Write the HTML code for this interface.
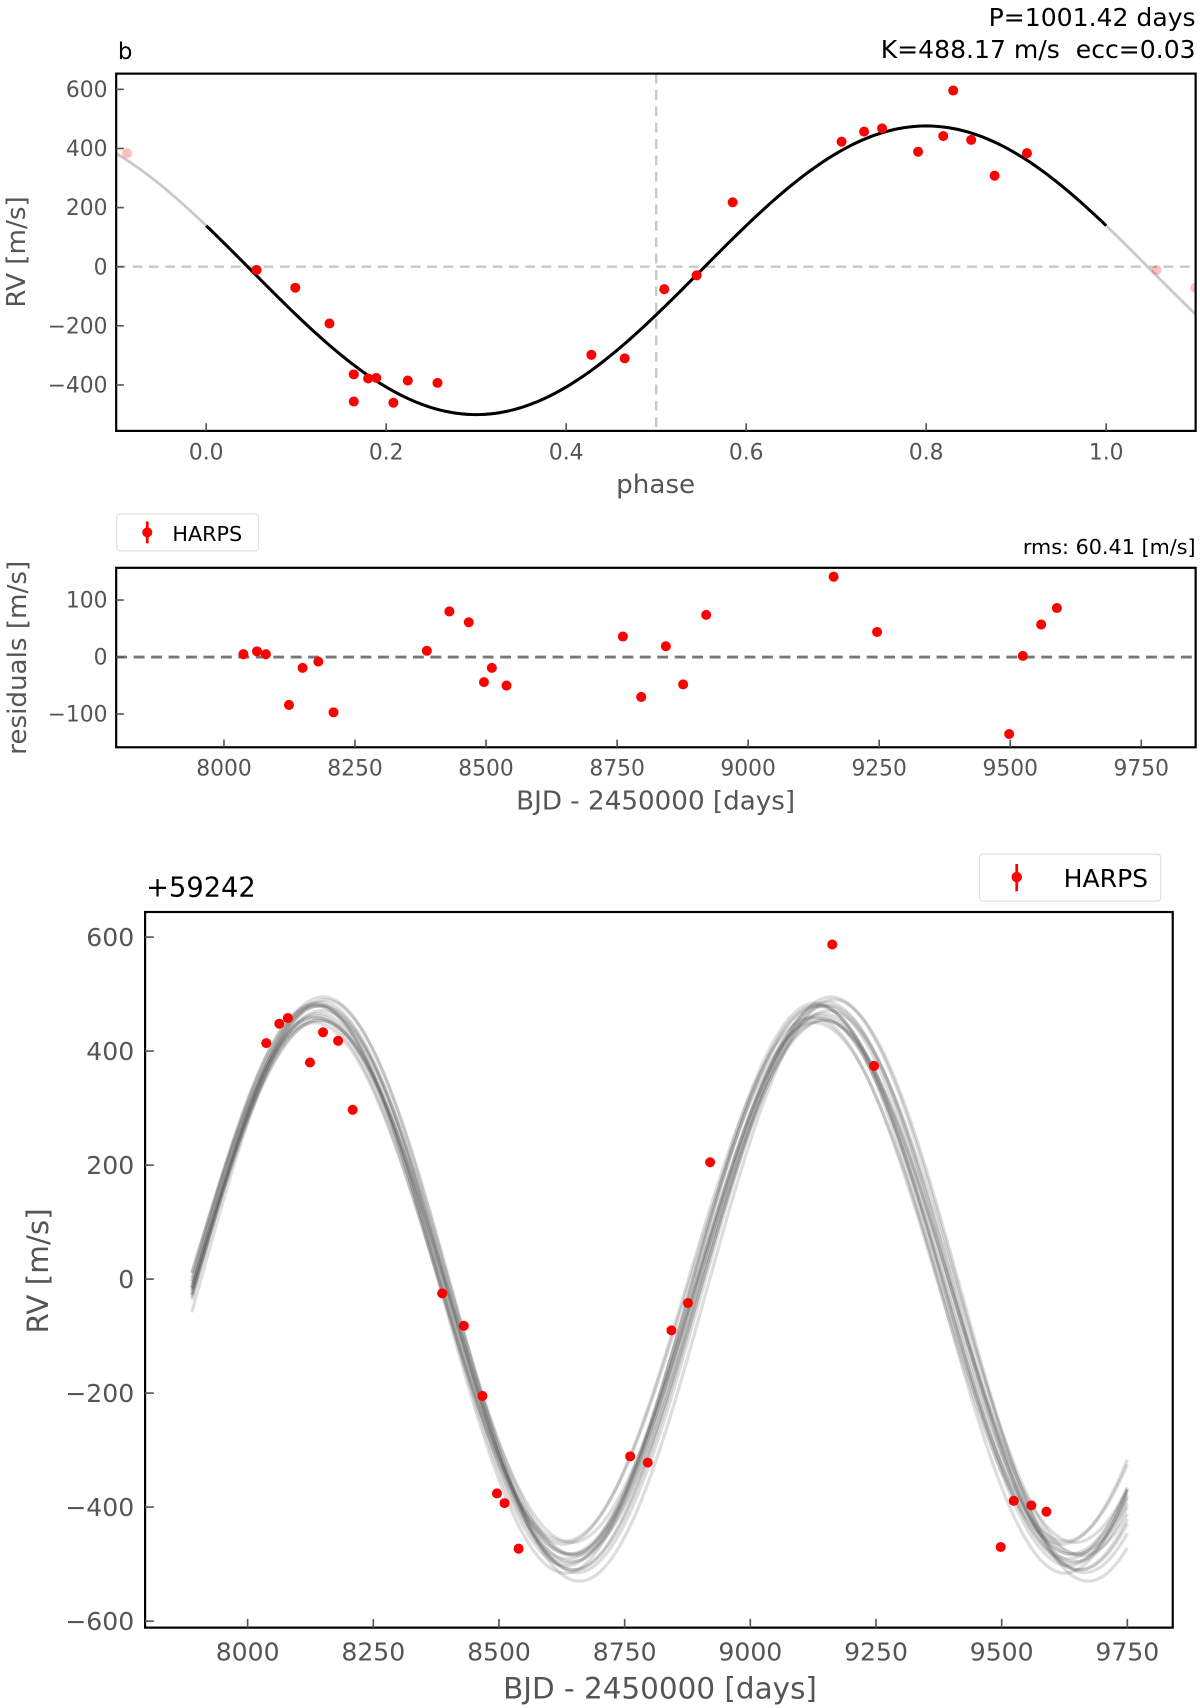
<!DOCTYPE html>
<html><head><meta charset="utf-8"><style>
html,body{margin:0;padding:0;background:#fff;}
svg{display:block;font-family:"DejaVu Sans","Liberation Sans",sans-serif;}
</style></head><body>
<svg id="fig" width="1200" height="1708" viewBox="0 0 1100 1565.67" xmlns="http://www.w3.org/2000/svg">
<g id="p1"></g>
<g id="p2"></g>
<g id="p3"></g>
</svg>
<script>
// ---- phase-folded data ----
const phaseVals = [0.056,0.099,0.137,0.164,0.164,0.180,0.189,0.208,0.224,0.257,0.428,0.465,0.509,0.545,0.585,0.706,0.731,0.751,0.791,0.819,0.830,0.850,0.876,0.912];
const phaseRV   = [-11,-71,-192,-364,-456,-378,-376,-460,-385,-393,-298,-310,-76,-29,218,423,457,468,389,442,596,429,308,384];
const modelK = 488.17;
const modelPhaseMin = 0.30;
const modelOffset = -12;
const phaseTicks = [0.0,0.2,0.4,0.6,0.8,1.0];
const phaseTickLabels = ["0.0","0.2","0.4","0.6","0.8","1.0"];
const rvTicks1 = [600,400,200,0,-200,-400];
const rvTickLabels1 = ["600","400","200","0","\u2212200","\u2212400"];
// ---- residuals ----
const resTimes = [8037,8063,8080,8124,8150,8180,8209,8387,8430,8467,8496,8511,8539,8761,8796,8843,8876,8920,9163,9246,9498,9524,9559,9589];
const resVals  = [5,10,5,-84,-19,-8,-97,11,80,61,-44,-19,-50,36,-70,19,-48,74,141,44,-135,2,57,86];
const resXTicks = [8000,8250,8500,8750,9000,9250,9500,9750];
const resYTicks = [100,0,-100];
const resYTickLabels = ["100","0","\u2212100"];
// ---- time series ----
const rvTimes = [8037,8063,8080,8124,8150,8180,8209,8387,8430,8467,8496,8511,8539,8761,8796,8843,8876,8920,9163,9246,9498,9524,9559,9589];
const rvVals  = [414,448,458,380,433,418,297,-25,-82,-205,-376,-393,-473,-311,-322,-90,-42,205,587,374,-470,-389,-397,-408];
const sampleK    = [470,488,495,455,505,480,462,498,475,510,485,468,492,478,500,458];
const sampleP    = [998,1003,1007,995,1010,1000,992,1005,1001,1012,997,1004,999,1008,994,1002];
const sampleTmin = [8640,8645,8650,8630,8655,8638,8628,8648,8642,8660,8636,8646,8634,8652,8632,8644];
const sampleOff  = [-12,-8,-15,-5,-10,-18,-3,-12,-9,-20,-6,-14,-11,-7,-16,-4];
const tsXTicks = [8000,8250,8500,8750,9000,9250,9500,9750];
const tsYTicks = [600,400,200,0,-200,-400,-600];
const tsYTickLabels = ["600","400","200","0","\u2212200","\u2212400","\u2212600"];

const NS="http://www.w3.org/2000/svg";
function mk(parent,tag,attrs,text){const e=document.createElementNS(NS,tag);for(const k in attrs)e.setAttribute(k,attrs[k]);if(text!==undefined)e.textContent=text;parent.appendChild(e);return e;}
const GRAY="#555";

// ================= Panel 1 =================
(function(){
const g=document.getElementById('p1');
const L=106.5,R=1096,T=67.5,B=395;
const xs=p=>189+(p-0)*825;
const ys=v=>244.5-v*0.271;
const model=p=>-modelK*Math.cos(2*Math.PI*(p-modelPhaseMin))+modelOffset;
const clip=mk(g,'clipPath',{id:'c1'});mk(clip,'rect',{x:L,y:T,width:R-L,height:B-T});
let e;
e=mk(g,'line',{x1:L,x2:R,y1:ys(0),y2:ys(0),stroke:'#c8c8c8','stroke-width':2.2,'stroke-dasharray':'9,6'});

e=mk(g,'line',{x1:xs(0.5),x2:xs(0.5),y1:T,y2:B,stroke:'#c8c8c8','stroke-width':2.2,'stroke-dasharray':'9,6'});

function path(a,b){let d='';for(let i=0;i<=200;i++){const p=a+(b-a)*i/200;d+=(i?'L':'M')+xs(p).toFixed(2)+','+ys(model(p)).toFixed(2);}return d;}
const cg=mk(g,'g',{'clip-path':'url(#c1)'});
e=mk(cg,'path',{d:path(-0.1,0),fill:'none',stroke:'#c8c8c8','stroke-width':2.5});

e=mk(cg,'path',{d:path(1,1.1),fill:'none',stroke:'#c8c8c8','stroke-width':2.5});

e=mk(cg,'path',{d:path(0,1),fill:'none',stroke:'#000','stroke-width':2.8});

for(let i=0;i<phaseVals.length;i++){
  const p=phaseVals[i],v=phaseRV[i];
  e=mk(cg,'circle',{cx:xs(p),cy:ys(v),r:4.6,fill:'#ff0000'});
  
  if(p>0.9){e=mk(cg,'circle',{cx:xs(p-1),cy:ys(v),r:4.6,fill:'#ff0000','fill-opacity':0.25});
    }
  if(p<0.1){e=mk(cg,'circle',{cx:xs(p+1),cy:ys(v),r:4.6,fill:'#ff0000','fill-opacity':0.25});
    }
}
e=mk(g,'rect',{x:L,y:T,width:R-L,height:B-T,fill:'none',stroke:'#000','stroke-width':2});

phaseTicks.forEach((t,i)=>{const x=xs(t);mk(g,'line',{x1:x,x2:x,y1:B,y2:B-7,stroke:GRAY,'stroke-width':1.5});
  e=mk(g,'text',{x:x,y:B+26,'text-anchor':'middle','font-size':20,fill:GRAY},phaseTickLabels[i]);
  });
rvTicks1.forEach((t,i)=>{const y=ys(t);mk(g,'line',{x1:L,x2:L+7,y1:y,y2:y,stroke:GRAY,'stroke-width':1.5});
  e=mk(g,'text',{x:L-8,y:y+7,'text-anchor':'end','font-size':20,fill:GRAY},rvTickLabels1[i]);
  });
e=mk(g,'text',{x:601,y:452,'text-anchor':'middle','font-size':24,fill:GRAY},'phase');

e=mk(g,'text',{x:0,y:0,'text-anchor':'middle','font-size':24,fill:GRAY,transform:'translate(23,231) rotate(-90)'},'RV [m/s]');

e=mk(g,'text',{x:108,y:54,'font-size':21,fill:'#000'},'b');

e=mk(g,'text',{x:1096,y:24,'text-anchor':'end','font-size':23,fill:'#000'},'P=1001.42 days');

e=mk(g,'text',{x:1096,y:53,'text-anchor':'end','font-size':23,fill:'#000'},'K=488.17 m/s\u00a0\u00a0ecc=0.03');

})();

// ================= Panel 2 =================
(function(){
const g=document.getElementById('p2');
const L=106.5,R=1096,T=520.5,B=685;
const xs=t=>205.3+(t-8000)*0.4805;
const ys=v=>602.3-v*0.5225;
let e;
e=mk(g,'line',{x1:L,x2:R,y1:ys(0),y2:ys(0),stroke:'#777','stroke-width':2.6,'stroke-dasharray':'10,6'});

for(let i=0;i<resTimes.length;i++){
  e=mk(g,'circle',{cx:xs(resTimes[i]),cy:ys(resVals[i]),r:4.6,fill:'#ff0000'});
  }
e=mk(g,'rect',{x:L,y:T,width:R-L,height:B-T,fill:'none',stroke:'#000','stroke-width':2});

resXTicks.forEach(t=>{const x=xs(t);mk(g,'line',{x1:x,x2:x,y1:B,y2:B-7,stroke:GRAY,'stroke-width':1.5});
  e=mk(g,'text',{x:x,y:B+26,'text-anchor':'middle','font-size':20,fill:GRAY},String(t));
  });
resYTicks.forEach((t,i)=>{const y=ys(t);mk(g,'line',{x1:L,x2:L+7,y1:y,y2:y,stroke:GRAY,'stroke-width':1.5});
  e=mk(g,'text',{x:L-8,y:y+7,'text-anchor':'end','font-size':20,fill:GRAY},resYTickLabels[i]);
  });
e=mk(g,'text',{x:601,y:742,'text-anchor':'middle','font-size':24,fill:GRAY},'BJD - 2450000 [days]');

e=mk(g,'text',{x:0,y:0,'text-anchor':'middle','font-size':24,fill:GRAY,transform:'translate(24,603) rotate(-90)'},'residuals [m/s]');

e=mk(g,'text',{x:1096,y:508,'text-anchor':'end','font-size':19,fill:'#000'},'rms: 60.41 [m/s]');

const lg=mk(g,'g',{});
mk(lg,'rect',{x:107,y:471,width:130,height:34,rx:3,fill:'#fff',stroke:'#ddd','stroke-width':1});
mk(lg,'line',{x1:135,x2:135,y1:478,y2:498,stroke:'#ff0000','stroke-width':2.5});
mk(lg,'circle',{cx:135,cy:488,r:4.6,fill:'#ff0000'});
e=mk(lg,'text',{x:158,y:496,'font-size':19,fill:'#000'},'HARPS');

})();

// ================= Panel 3 =================
(function(){
const g=document.getElementById('p3');
const L=133,R=1075,T=836,B=1492;
const xs=t=>227+(t-8000)*0.4608;
const ys=v=>1172.5-v*0.5225;
let e;
const tStart=7889,tEnd=9750;
for(let s=0;s<sampleK.length;s++){
  let d='';
  for(let i=0;i<=300;i++){const t=tStart+(tEnd-tStart)*i/300;
    const v=-sampleK[s]*Math.cos(2*Math.PI*(t-sampleTmin[s])/sampleP[s])+sampleOff[s];
    d+=(i?'L':'M')+xs(t).toFixed(2)+','+ys(v).toFixed(2);}
  e=mk(g,'path',{d:d,fill:'none',stroke:'#555','stroke-opacity':0.2,'stroke-width':3});
  
}
for(let i=0;i<rvTimes.length;i++){
  e=mk(g,'circle',{cx:xs(rvTimes[i]),cy:ys(rvVals[i]),r:4.6,fill:'#ff0000'});
  }
e=mk(g,'rect',{x:L,y:T,width:R-L,height:B-T,fill:'none',stroke:'#000','stroke-width':2});

tsXTicks.forEach(t=>{const x=xs(t);mk(g,'line',{x1:x,x2:x,y1:B,y2:B-8,stroke:GRAY,'stroke-width':1.5});
  e=mk(g,'text',{x:x,y:B+30,'text-anchor':'middle','font-size':23,fill:GRAY},String(t));
  });
tsYTicks.forEach((t,i)=>{const y=ys(t);mk(g,'line',{x1:L,x2:L+8,y1:y,y2:y,stroke:GRAY,'stroke-width':1.5});
  e=mk(g,'text',{x:L-10,y:y+8,'text-anchor':'end','font-size':23,fill:GRAY},tsYTickLabels[i]);
  });
e=mk(g,'text',{x:605,y:1557,'text-anchor':'middle','font-size':27,fill:GRAY},'BJD - 2450000 [days]');

e=mk(g,'text',{x:0,y:0,'text-anchor':'middle','font-size':27,fill:GRAY,transform:'translate(44,1165) rotate(-90)'},'RV [m/s]');

e=mk(g,'text',{x:134,y:822,'font-size':25,fill:'#000'},'+59242');

const lg=mk(g,'g',{});
mk(lg,'rect',{x:898,y:783,width:166,height:43,rx:3,fill:'#fff',stroke:'#ddd','stroke-width':1});
mk(lg,'line',{x1:932,x2:932,y1:792,y2:817,stroke:'#ff0000','stroke-width':2.5});
mk(lg,'circle',{cx:932,cy:804,r:4.8,fill:'#ff0000'});
e=mk(lg,'text',{x:975,y:813,'font-size':23,fill:'#000'},'HARPS');

})();
</script>
</body></html>
